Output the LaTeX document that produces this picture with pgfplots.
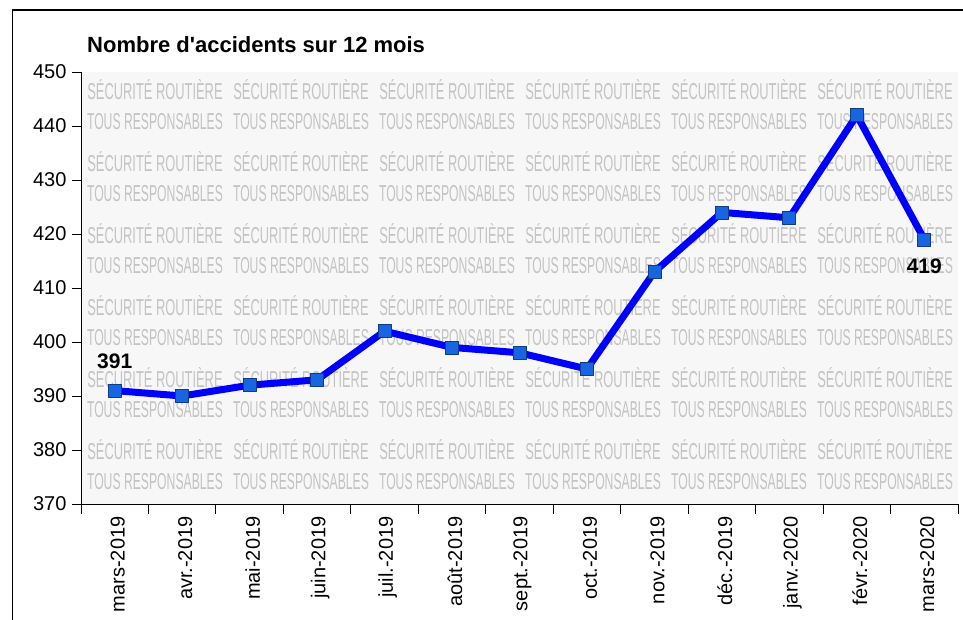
\documentclass[border=0pt]{standalone}
\usepackage{fontspec}
\setmainfont{Liberation Sans}
\usepackage{pgfplots}
\pgfplotsset{compat=1.18}
\definecolor{wm}{RGB}{195,195,195}
\definecolor{bgc}{RGB}{247,247,247}
\definecolor{mk}{RGB}{25,100,225}
\begin{document}
\begin{tikzpicture}[x=1pt,y=1pt]
\useasboundingbox (0,0) rectangle (963,619);
\fill[white] (0,0) rectangle (963,619);
\draw[line width=1.5pt] (12.5,-5) -- (12.5,609) -- (970,609);
\fill[bgc] (81,115) rectangle (958,547);
\foreach \c in {155,301,447,593,739,885}{
  \foreach \r in {0,...,5}{
    \node[text=wm, font=\fontsize{23}{23}\selectfont, inner sep=0pt] at (\c, 619-89.5-72*\r) {\scalebox{0.56}[1]{SÉCURITÉ ROUTIÈRE}};
    \node[text=wm, font=\fontsize{23}{23}\selectfont, inner sep=0pt] at (\c, 619-122-72*\r) {\scalebox{0.53}[1]{TOUS RESPONSABLES}};
  }
}
\node[anchor=base west, font=\bfseries\fontsize{22}{22}\selectfont, inner sep=0pt] at (87,566) {Nombre d\textquotesingle accidents sur 12 mois};
\begin{axis}[at={(81pt,115pt)}, anchor=south west, scale only axis,
  width=877pt, height=432pt,
  xmin=-0.5, xmax=12.5, ymin=370, ymax=450,
  axis x line*=bottom, axis y line*=left,
  xtick={0,...,12},
  xticklabels={mars-2019,avr.-2019,mai-2019,juin-2019,juil.-2019,août-2019,sept.-2019,oct.-2019,nov.-2019,déc.-2019,janv.-2020,févr.-2020,mars-2020},
  minor xtick={-0.5,0.5,...,12.5},
  ytick={370,380,...,450},
  tick align=outside,
  major tick length=9pt, minor tick length=10pt,
  major x tick style={draw=none},
  tick style={black, line width=1pt},
  axis line style={line width=1pt},
  xticklabel style={rotate=90, anchor=east, yshift=-3pt, font=\fontsize{20}{20}\selectfont},
  yticklabel style={font=\fontsize{20}{20}\selectfont, xshift=-2pt},
  /pgf/number format/assume math mode=true,
  clip=false]
\addplot[color=blue, line width=7pt, line join=round, mark=square*, mark size=6.5pt,
  mark options={fill=mk, draw=mk!60!black, line width=0.8pt}]
  coordinates {(0,391) (1,390) (2,392) (3,393) (4,402) (5,399) (6,398) (7,395) (8,413) (9,424) (10,423) (11,442) (12,419)};
\node[font=\bfseries\fontsize{21}{21}\selectfont, yshift=29pt] at (axis cs:0,391) {391};
\node[font=\bfseries\fontsize{21}{21}\selectfont, yshift=-27pt] at (axis cs:12,419) {419};
\end{axis}
\end{tikzpicture}
\end{document}
